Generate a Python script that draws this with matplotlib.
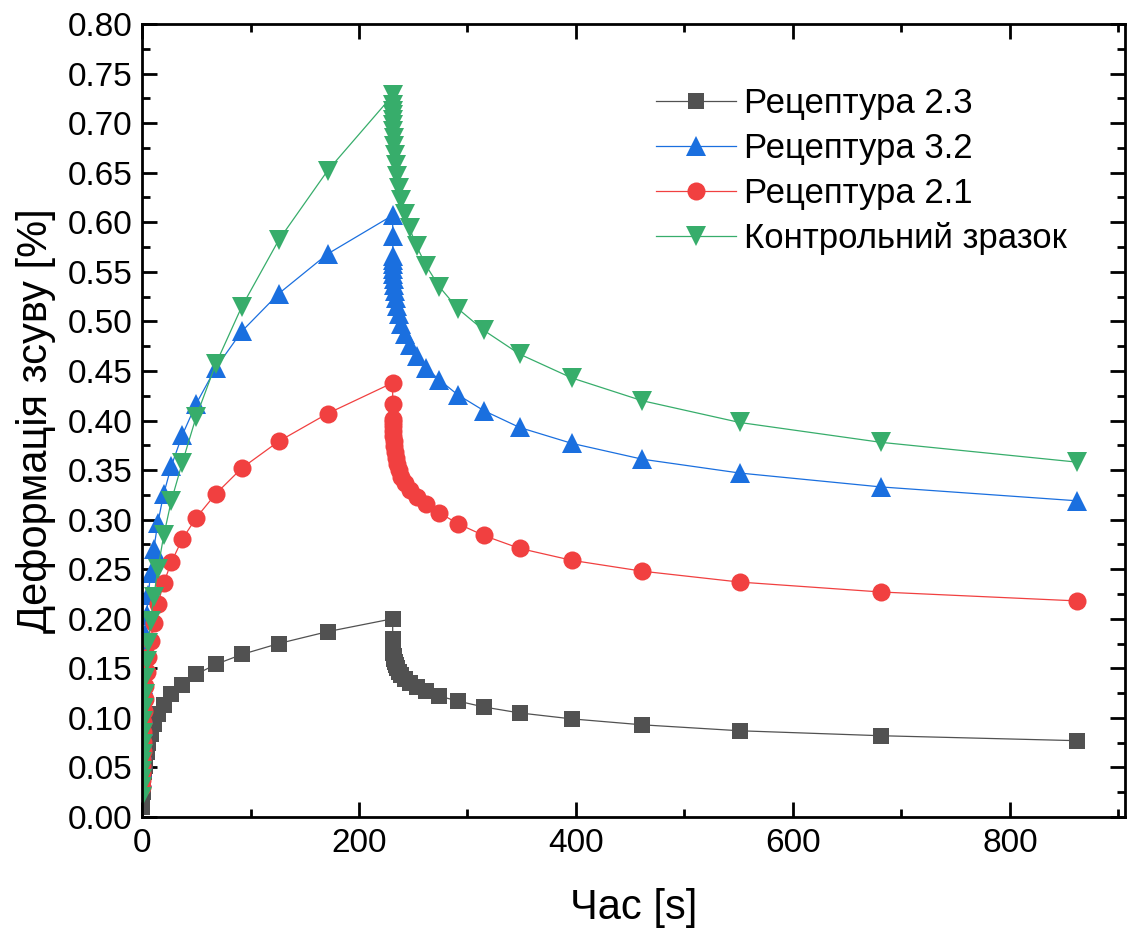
import matplotlib
matplotlib.use("Agg")
import matplotlib.pyplot as plt
from matplotlib.ticker import MultipleLocator, FormatStrFormatter

plt.rcParams['font.family'] = ['Liberation Sans', 'DejaVu Sans']

# Time points, loading stage (s)
time_load = [0.1, 0.15, 0.2, 0.27, 0.37, 0.5, 0.68, 0.92, 1.25, 1.7, 2.3, 3.2,
             4.3, 5.8, 7.9, 10.8, 14.6, 20, 27, 37, 50, 68, 92, 126, 171, 231]
# Time points, recovery stage (s)
time_rec = [231.1, 231.2, 231.27, 231.38, 231.54, 231.75, 232.05, 232.5, 233.1,
            233.9, 235.0, 236.7, 238.9, 242, 246.6, 253, 262, 274, 291, 315,
            348, 396, 461, 551, 681, 862]

# Shear strain (%) - loading stage
r23_load = [0.010, 0.012, 0.015, 0.018, 0.021, 0.025, 0.029, 0.034, 0.039, 0.045,
            0.051, 0.058, 0.066, 0.075, 0.084, 0.094, 0.104, 0.113, 0.124, 0.133,
            0.144, 0.154, 0.164, 0.175, 0.187, 0.200]
r32_load = [0.040, 0.050, 0.059, 0.069, 0.080, 0.092, 0.105, 0.119, 0.134, 0.150,
            0.167, 0.185, 0.204, 0.224, 0.246, 0.270, 0.297, 0.326, 0.354, 0.385,
            0.417, 0.453, 0.490, 0.528, 0.568, 0.607]
r21_load = [0.030, 0.037, 0.044, 0.051, 0.059, 0.067, 0.076, 0.086, 0.096, 0.107,
            0.119, 0.132, 0.146, 0.161, 0.178, 0.196, 0.215, 0.236, 0.257, 0.280,
            0.302, 0.326, 0.352, 0.379, 0.407, 0.438]
ctrl_load = [0.020, 0.030, 0.038, 0.046, 0.055, 0.064, 0.074, 0.085, 0.097, 0.110,
             0.124, 0.140, 0.157, 0.176, 0.198, 0.222, 0.250, 0.284, 0.319, 0.357,
             0.404, 0.457, 0.515, 0.582, 0.652, 0.728]

# Shear strain (%) - recovery stage
r23_rec = [0.180, 0.175, 0.173, 0.171, 0.168, 0.165, 0.162, 0.159, 0.156, 0.153,
           0.150, 0.146, 0.143, 0.139, 0.135, 0.131, 0.127, 0.122, 0.117, 0.111,
           0.105, 0.099, 0.093, 0.087, 0.082, 0.077]
r32_rec = [0.586, 0.566, 0.562, 0.558, 0.553, 0.548, 0.543, 0.537, 0.531, 0.524,
           0.516, 0.507, 0.497, 0.487, 0.476, 0.465, 0.453, 0.441, 0.426, 0.410,
           0.393, 0.377, 0.361, 0.347, 0.333, 0.319]
r21_rec = [0.417, 0.402, 0.398, 0.394, 0.389, 0.384, 0.379, 0.374, 0.368, 0.362,
           0.356, 0.350, 0.343, 0.337, 0.330, 0.323, 0.316, 0.307, 0.296, 0.284,
           0.271, 0.259, 0.248, 0.237, 0.227, 0.218]
ctrl_rec = [0.718, 0.712, 0.708, 0.703, 0.698, 0.692, 0.685, 0.677, 0.668, 0.658,
            0.647, 0.635, 0.622, 0.608, 0.594, 0.576, 0.556, 0.535, 0.513, 0.491,
            0.467, 0.443, 0.420, 0.398, 0.378, 0.358]

labels = ['Рецептура 2.3', 'Рецептура 3.2', 'Рецептура 2.1', 'Контрольний зразок']
colors = ['#515151', '#1A6FDF', '#F14040', '#37AD6B']
markers = ['s', '^', 'o', 'v']
msizes = [12, 14, 13, 14]

series = [(r23_load, r23_rec), (r32_load, r32_rec),
          (r21_load, r21_rec), (ctrl_load, ctrl_rec)]

time_all = time_load + time_rec

fig = plt.figure(figsize=(11.28, 9.35), dpi=100)
ax = fig.add_axes([0.1259, 0.1262, 0.8714, 0.8481])

for (ld, rc), lab, col, mk, ms in zip(series, labels, colors, markers, msizes):
    ax.plot(time_all, ld + rc, color=col, lw=0.9, marker=mk, ms=ms,
            markeredgewidth=0, label=lab)

ax.set_xlim(0, 906)
ax.set_ylim(0, 0.80)
ax.xaxis.set_major_locator(MultipleLocator(200))
ax.xaxis.set_minor_locator(MultipleLocator(100))
ax.yaxis.set_major_locator(MultipleLocator(0.05))
ax.yaxis.set_minor_locator(MultipleLocator(0.025))
ax.yaxis.set_major_formatter(FormatStrFormatter('%.2f'))

ax.tick_params(which='both', direction='in', top=True, right=True, width=2)
ax.tick_params(which='major', length=10.5, labelsize=24)
ax.tick_params(axis='y', which='major', pad=7)
ax.tick_params(axis='x', which='major', pad=8)
ax.tick_params(which='minor', length=5.5)
for sp in ax.spines.values():
    sp.set_linewidth(2)

ax.set_xlabel('Час [s]', fontsize=30, labelpad=21)
ax.set_ylabel('Деформація зсуву [%]', fontsize=30, labelpad=8)

ax.legend(loc='upper left', bbox_to_anchor=(0.523, 0.92), frameon=False,
          fontsize=25, handlelength=2.3, handletextpad=0.23, labelspacing=0.34,
          borderpad=0, borderaxespad=0, numpoints=1)

fig.savefig('out.png', dpi=100)
